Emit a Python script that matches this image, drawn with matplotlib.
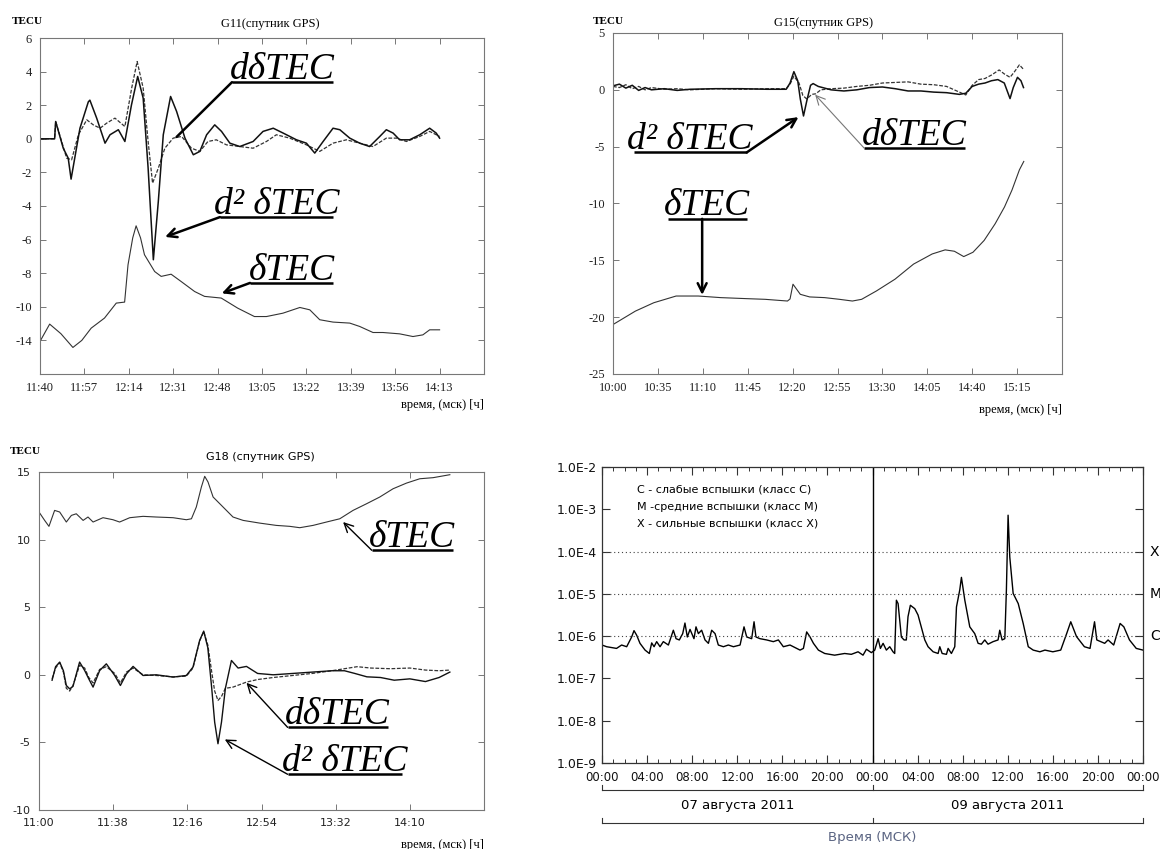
import numpy as np
import matplotlib
matplotlib.use('Agg')
import matplotlib.pyplot as plt

plt.rcParams['font.family'] = ['Liberation Serif', 'DejaVu Sans']

# ---------------- G11 (minutes after 11:40) ----------------
g11_dtec_t = [0, 3.7, 8, 12.6, 16, 19.6, 24.7, 29.2, 32.4, 33.7, 35.5, 36.8, 38.5, 40, 43.9, 46.4, 50.2, 54,
              59.2, 63, 69.4, 75.7, 82.1, 86.7, 93, 99.5, 103.3, 107.1, 112.2, 118.6, 122.4, 127.5, 131.3,
              137.7, 142.8, 146.6, 149.2, 153]
g11_dtec = [-12.06, -11.03, -11.6, -12.42, -12.0, -11.27, -10.67, -9.78, -9.72, -7.5, -5.9, -5.18, -5.9, -6.9,
            -7.9, -8.19, -8.06, -8.49, -9.09, -9.38, -9.48, -10.08, -10.58, -10.58, -10.38, -10.04, -10.18,
            -10.77, -10.91, -10.97, -11.17, -11.53, -11.53, -11.61, -11.77, -11.67, -11.37, -11.37]
g11_d1_t = [0, 5.6, 6, 10.2, 12.1, 14.7, 17.9, 20.4, 23, 25.5, 28.7, 32.5, 35.1, 37.2, 39.5, 41.4, 43.1, 45.3,
            47.8, 51, 54.2, 58, 61.2, 64.3, 67.5, 71.4, 76.5, 81.6, 86.7, 90.5, 95.6, 102, 107.1, 112.2, 117.3,
            122.4, 127.5, 132.6, 136.5, 140.3, 145.4, 149.2, 153]
g11_d1 = [0, 0, 1.03, -1.15, -1.25, 0.24, 1.13, 0.83, 0.63, 0.93, 1.23, 0.73, 3.02, 4.6, 3.02, -0.16, -2.64,
          -1.75, -0.56, 0.04, 0.14, -0.56, -0.75, -0.16, -0.06, -0.36, -0.46, -0.56, -0.16, 0.24, 0.04, -0.36,
          -0.75, -0.26, -0.06, -0.26, -0.46, 0.04, 0.04, -0.16, 0.14, 0.44, 0.14]
g11_d2_t = [0, 5.6, 6, 8.9, 10.8, 11.9, 15.3, 18.5, 19.1, 21.7, 24.9, 26.8, 30, 32.5, 35, 37.4, 39.5, 41.4,
            43.4, 45.3, 47.2, 50, 52.3, 55.5, 58.7, 61.2, 63.8, 66.9, 69.5, 72.7, 76.5, 81.6, 85.4, 89.3, 93.1,
            98.2, 102, 105.2, 108.4, 112.2, 114.8, 118.6, 122.4, 126.2, 130.1, 132.6, 135.2, 137.7, 141.5,
            145.4, 149.2, 151.7, 153]
g11_d2 = [0, 0, 1.03, -0.56, -1.15, -2.4, 0.63, 2.2, 2.3, 1.23, -0.26, 0.24, 0.54, -0.16, 2.0, 3.71, 2.42,
          -1.75, -7.2, -3.73, 0.24, 2.52, 1.63, 0.04, -0.95, -0.75, 0.24, 0.83, 0.44, -0.26, -0.46, -0.16, 0.44,
          0.63, 0.34, -0.06, -0.26, -0.85, -0.16, 0.63, 0.54, 0.04, -0.26, -0.46, 0.14, 0.54, 0.34, -0.06,
          -0.06, 0.24, 0.63, 0.34, 0.04]
g11_xlabels = ['11:40', '11:57', '12:14', '12:31', '12:48', '13:05', '13:22', '13:39', '13:56', '14:13']
g11_ylabels = ['6', '4', '2', '0', '-2', '-4', '-6', '-8', '-10', '-14']

# ---------------- G15 (minutes after 10:00) ----------------
g15_dtec_t = [0, 17.4, 31.8, 49.2, 66.5, 83.9, 104, 118.6, 136, 138, 140.3, 146, 153.3, 164.9, 176.5, 186.6,
              193.8, 205.4, 219.8, 234.3, 248.8, 258.9, 266.1, 273.4, 280.6, 289.3, 297.9, 305.2, 311, 316.8,
              320.2]
g15_dtec = [-20.65, -19.47, -18.73, -18.14, -18.14, -18.28, -18.37, -18.43, -18.58, -18.4, -17.1, -17.99,
            -18.22, -18.28, -18.43, -18.58, -18.43, -17.69, -16.66, -15.33, -14.44, -14.08, -14.2, -14.67,
            -14.29, -13.25, -11.78, -10.3, -8.82, -7.04, -6.3]
g15_d2_t = [0, 5, 10, 15, 20, 25, 30, 40, 50, 60, 80, 100, 120, 135, 138, 141, 144, 146, 148.5, 151, 154, 156,
            160, 170, 180, 190, 200, 210, 220, 230, 240, 250, 260, 270, 275, 280, 285, 290, 295, 300, 305,
            309.5, 312, 315.3, 318, 320]
g15_d2 = [0.35, 0.5, 0.15, 0.4, -0.05, 0.2, 0.0, 0.1, -0.05, 0.05, 0.1, 0.1, 0.05, 0.05, 0.6, 1.6, 0.8, -0.8,
          -2.3, -1.0, 0.4, 0.55, 0.3, 0.0, -0.1, 0.0, 0.2, 0.25, 0.1, -0.1, -0.1, -0.2, -0.25, -0.4, -0.3, 0.3,
          0.5, 0.6, 0.8, 0.9, 0.6, -0.77, 0.2, 1.1, 0.8, 0.2]
g15_d1_t = [0, 5, 10, 15, 20, 25, 30, 40, 50, 60, 80, 100, 120, 135, 138, 141, 145, 148, 151, 155, 158, 162,
            170, 180, 190, 200, 210, 220, 230, 240, 250, 260, 270, 275, 280, 285, 290, 295, 301, 305, 309.5,
            313, 316.8, 320]
g15_d1 = [0.3, 0.2, 0.45, 0.1, 0.3, 0.0, 0.2, 0.05, 0.1, 0.0, 0.1, 0.05, 0.1, 0.1, 0.5, 1.2, 0.6, -0.5, -0.8,
          -0.4, -0.35, 0.0, 0.1, 0.15, 0.3, 0.4, 0.6, 0.65, 0.7, 0.5, 0.45, 0.3, -0.2, -0.45, 0.4, 0.9, 1.0,
          1.3, 1.75, 1.4, 1.1, 1.6, 2.2, 1.8]
g15_xlabels = ['10:00', '10:35', '11:10', '11:45', '12:20', '12:55', '13:30', '14:05', '14:40', '15:15']
g15_ylabels = ['5', '0', '-5', '-10', '-15', '-20', '-25']

# ---------------- G18 (minutes after 11:00) ----------------
g18_dtec_t = [0, 2.9, 5.1, 8, 10.6, 14, 16.6, 19.1, 22.6, 25.1, 27.7, 32.8, 37.9, 41.3, 46.5, 53.3, 60.1, 68.7,
              75.5, 78.1, 80.6, 83.2, 84.9, 86.6, 89.2, 94.3, 99.4, 104.6, 113.1, 121.6, 128.5, 133.6, 140.4,
              147.3, 154.1, 160.9, 167.8, 174.6, 181.4, 188.3, 195.1, 201.9, 210.5]
g18_dtec = [12.04, 11.42, 10.98, 12.16, 12.04, 11.3, 11.79, 11.91, 11.42, 11.67, 11.3, 11.62, 11.47, 11.3,
            11.62, 11.72, 11.67, 11.62, 11.47, 11.54, 12.41, 13.89, 14.68, 14.26, 13.15, 12.41, 11.67, 11.42,
            11.22, 11.05, 10.98, 10.88, 11.05, 11.3, 11.54, 12.16, 12.65, 13.15, 13.76, 14.18, 14.5, 14.58, 14.8]
g18_d2_t = [6.7, 8.5, 10.6, 12.5, 14, 15.7, 17.4, 20.8, 23.4, 25.5, 27.7, 31.1, 34.5, 38.8, 41.7, 44.8, 48.2,
            53.3, 60.1, 68.7, 75.5, 78.9, 82.3, 84.4, 86.5, 88.5, 90, 91.7, 93.5, 95.5, 98.6, 102, 106.3, 112,
            120, 130, 140, 150, 156.5, 161.8, 168, 175, 182, 190, 198, 205, 210.5]
g18_d2 = [-0.4, 0.6, 0.94, 0.3, -0.79, -1.04, -0.86, 0.94, 0.32, -0.3, -0.91, 0.32, 0.81, -0.05, -0.79, 0.07,
          0.62, -0.05, 0.0, -0.17, -0.05, 0.57, 2.54, 3.23, 2.0, -1.0, -3.5, -5.1, -3.5, -1.0, 1.06, 0.5, 0.62,
          0.1, 0.0, 0.1, 0.2, 0.3, 0.3, 0.1, -0.15, -0.2, -0.4, -0.3, -0.5, -0.2, 0.2]
g18_d1_t = [6.7, 8.5, 10.6, 12.5, 14, 15.7, 17.4, 20.8, 23.4, 25.5, 27.7, 31.1, 34.5, 38.8, 41.7, 44.8, 48.2,
            53.3, 60.1, 68.7, 75.5, 78.9, 82.3, 84.4, 86.5, 88.5, 90, 91.7, 93.5, 95.5, 99.4, 106.3, 112, 120,
            130, 140, 150, 156.5, 163, 170, 180, 190, 198, 205, 210.5]
g18_d1 = [-0.3, 0.5, 0.9, 0.2, -1.0, -1.2, -0.8, 0.7, 0.5, -0.2, -0.6, 0.4, 0.6, 0.1, -0.6, 0.2, 0.5, 0.0,
          -0.05, -0.15, -0.1, 0.5, 2.5, 3.2, 2.2, 0.2, -1.2, -1.9, -1.6, -1.0, -0.91, -0.54, -0.35, -0.2, -0.05,
          0.1, 0.3, 0.45, 0.6, 0.5, 0.45, 0.5, 0.35, 0.3, 0.35]
g18_xlabels = ['11:00', '11:38', '12:16', '12:54', '13:32', '14:10']
g18_ylabels = ['15', '10', '5', '0', '-5', '-10']

# ---------------- GOES X-ray flux (hours from 07 Aug 00:00), log10 W/m2 ----------------
xray_h = [0, 0.41, 1.29, 1.74, 2.19, 2.63, 2.84, 3.08, 3.37, 3.82, 4.2, 4.41, 4.62, 4.85, 5.15, 5.44, 5.89,
          6.33, 6.57, 6.86, 7.16, 7.36, 7.57, 7.81, 8.16, 8.34, 8.55, 8.84, 9.14, 9.44, 9.73, 10.03, 10.32,
          10.77, 11.21, 11.66, 12.25, 12.6, 12.84, 13.28, 13.49, 13.66, 14.02, 14.61, 15.2, 15.65, 16.09,
          16.68, 17.28, 17.57, 17.87, 18.16, 18.46, 18.76, 19.2, 19.76, 20.64, 21.53, 22.12, 22.72, 23.16,
          23.46, 23.9, 24.2, 24.5, 24.7, 24.94, 25.23, 25.53, 25.82, 25.97, 26.12, 26.27, 26.56, 26.8, 27.0,
          27.15, 27.36, 27.75, 28.04, 28.49, 28.64, 28.93, 29.38, 29.82, 29.97, 30.18, 30.56, 30.71, 31.0,
          31.3, 31.45, 31.74, 31.89, 32.19, 32.63, 33.07, 33.37, 33.66, 33.96, 34.25, 34.7, 35.14, 35.29,
          35.5, 35.74, 35.88, 36.03, 36.18, 36.48, 36.93, 37.37, 37.82, 38.26, 38.85, 39.3, 40.0, 40.7,
          41.24, 41.59, 42.1, 42.8, 43.3, 43.7, 43.9, 44.6, 44.9, 45.4, 45.97, 46.3, 46.8, 47.4, 48.0]
xray_lg = [-6.21, -6.25, -6.29, -6.21, -6.25, -6.02, -5.87, -5.98, -6.17, -6.33, -6.41, -6.16, -6.25, -6.13,
           -6.25, -6.13, -6.21, -5.86, -6.06, -6.09, -5.94, -5.69, -6.02, -5.84, -6.06, -5.78, -5.94, -5.86,
           -6.09, -6.17, -5.86, -5.94, -6.21, -6.25, -6.21, -6.25, -6.21, -5.78, -6.02, -6.06, -5.66, -6.02,
           -6.06, -6.09, -6.13, -6.09, -6.25, -6.21, -6.29, -6.33, -6.29, -5.9, -6.02, -6.17, -6.33, -6.41,
           -6.45, -6.41, -6.43, -6.37, -6.45, -6.31, -6.39, -6.33, -6.06, -6.29, -6.17, -6.33, -6.25, -6.37,
           -6.41, -5.15, -5.23, -6.02, -6.09, -6.09, -5.54, -5.27, -5.35, -5.5, -5.94, -6.09, -6.25, -6.37,
           -6.41, -6.25, -6.41, -6.43, -6.29, -6.41, -6.25, -5.31, -4.91, -4.61, -5.15, -5.78, -5.94, -6.17,
           -6.19, -6.09, -6.19, -6.13, -6.09, -5.86, -6.09, -6.06, -4.91, -3.14, -4.13, -4.99, -5.23, -5.7,
           -6.25, -6.33, -6.37, -6.33, -6.37, -6.33, -5.93, -5.66, -6.01, -6.25, -6.29, -5.66, -6.09, -6.17,
           -6.09, -6.21, -5.7, -5.78, -6.09, -6.29, -6.33]
xray_xlabels = ['00:00', '04:00', '08:00', '12:00', '16:00', '20:00'] * 2 + ['00:00']
xray_ylabels = ['1.0E-9', '1.0E-8', '1.0E-7', '1.0E-6', '1.0E-5', '1.0E-4', '1.0E-3', '1.0E-2']
class_names = ['C', 'M', 'X']
class_levels = [1e-6, 1e-5, 1e-4]
class_legend = ['C - слабые вспышки (класс C)', 'M -средние вспышки (класс M)', 'X - сильные вспышки (класс X)']
day_labels = ['07 августа 2011', '09 августа 2011']

W, H = 1160, 849
fig = plt.figure(figsize=(W / 100, H / 100), dpi=100)


def rect(l, t, r, b):
    return [l / W, 1 - b / H, (r - l) / W, (b - t) / H]


def ftext(x, y, s, **kw):
    fig.text(x / W, 1 - y / H, s, **kw)


def tec_frame(ax, xmax, step, xlabels, ylim, yticks, ylabels, family, size):
    ax.set_xlim(0, xmax)
    ax.set_ylim(*ylim)
    ax.set_xticks(np.arange(0, xmax + 1, step))
    ax.set_xticklabels(xlabels + [''])
    ax.set_yticks(yticks)
    ax.set_yticklabels(ylabels)
    ax.tick_params(direction='in', top=True, right=True, length=4, width=0.7, colors='#777',
                   labelcolor='#222', pad=6)
    for lab in ax.get_xticklabels() + ax.get_yticklabels():
        lab.set_family(family)
        lab.set_fontsize(size)
    for sp in ax.spines.values():
        sp.set_color('#777')
        sp.set_linewidth(0.8)


def tag(ax, txt, x0, x1, y, dy, start, tip, lw=1.8, color='k', head='->'):
    ax.plot([x0, x1], [y, y], color='k', lw=1.8, solid_capstyle='butt', clip_on=False)
    ax.text((x0 + x1) / 2, y + dy, txt, ha='center', va='baseline', fontsize=27,
            family='Liberation Serif', style='italic')
    ax.annotate('', xy=tip, xytext=start,
                arrowprops=dict(arrowstyle=head, lw=lw, color=color, shrinkA=0, shrinkB=0, mutation_scale=16))


dash = (0, (3, 1.3))

# panel G11
ax1 = fig.add_axes(rect(40, 38, 484, 374))
ax1.plot(g11_dtec_t, g11_dtec, color='#333', lw=0.8)
ax1.plot(g11_d1_t, g11_d1, color='#333', lw=0.9, ls=dash)
ax1.plot(g11_d2_t, g11_d2, color='#111', lw=1.1)
tec_frame(ax1, 170, 17, g11_xlabels, (-14, 6), np.arange(6, -13, -2), g11_ylabels, 'Liberation Serif', 9)
tag(ax1, 'dδTEC', 73.5, 112.2, 3.37, 0.2, (73.5, 3.37), (52.3, 0.11), head='-')
tag(ax1, 'd² δTEC', 68.9, 112.2, -4.66, 0.2, (68.9, -4.66), (47.9, -5.84))
tag(ax1, 'δTEC', 80.4, 112.2, -8.58, 0.2, (80.4, -8.58), (69.6, -9.2))
ftext(12, 21, 'TECU', fontsize=8, weight='bold', va='center', family='Liberation Serif')
ftext(270, 24, 'G11(спутник GPS)', fontsize=9, ha='center', va='center', family='Liberation Serif')
ftext(484, 405, 'время, (мск) [ч]', fontsize=9, ha='right', va='center', family='Liberation Serif')

# panel G15
ax2 = fig.add_axes(rect(613, 33, 1062, 374))
ax2.plot(g15_dtec_t, g15_dtec, color='#333', lw=0.8)
ax2.plot(g15_d1_t, g15_d1, color='#333', lw=0.9, ls=dash)
ax2.plot(g15_d2_t, g15_d2, color='#111', lw=1.1)
tec_frame(ax2, 350, 35, g15_xlabels, (-25, 5), np.arange(5, -26, -5), g15_ylabels, 'Liberation Serif', 9)
tag(ax2, 'd² δTEC', 16.1, 104.2, -5.51, 0.3, (104.2, -5.51), (144.6, -2.4))
tag(ax2, 'dδTEC', 195.8, 274.4, -5.13, 0.3, (195.8, -5.13), (157.6, -0.43), lw=0.8, color='#777')
tag(ax2, 'δTEC', 42.9, 104.2, -11.35, 0.3, (69.5, -11.35), (69.5, -18.04))
ftext(593, 22, 'TECU', fontsize=8, weight='bold', va='center', family='Liberation Serif')
ftext(824, 23, 'G15(спутник GPS)', fontsize=9, ha='center', va='center', family='Liberation Serif')
ftext(1062, 410, 'время, (мск) [ч]', fontsize=9, ha='right', va='center', family='Liberation Serif')

# panel G18
ax3 = fig.add_axes(rect(39, 472, 484, 810))
ax3.plot(g18_dtec_t, g18_dtec, color='#333', lw=0.8)
ax3.plot(g18_d1_t, g18_d1, color='#333', lw=0.9, ls=dash)
ax3.plot(g18_d2_t, g18_d2, color='#111', lw=1.0)
tec_frame(ax3, 228, 38, g18_xlabels, (-10, 15), np.arange(15, -11, -5), g18_ylabels, 'DejaVu Sans', 8)
tag(ax3, 'δTEC', 170.5, 211.9, 9.21, 0.25, (170.5, 9.21), (155.8, 11.3), lw=1.0)
tag(ax3, 'dδTEC', 127.4, 178.6, -3.89, 0.25, (127.4, -3.89), (106.3, -0.59), lw=1.0)
tag(ax3, 'd² δTEC', 127.4, 185.8, -7.36, 0.25, (127.4, -7.36), (95.2, -4.78), lw=1.0)
ftext(10, 452, 'TECU', fontsize=8, weight='bold', va='center', family='Liberation Serif')
ftext(260, 457, 'G18 (спутник GPS)', fontsize=8, ha='center', va='center', family='DejaVu Sans')
ftext(484, 845, 'время, (мск) [ч]', fontsize=9, ha='right', va='center', family='Liberation Serif')

# panel X-ray flux
ax4 = fig.add_axes(rect(602, 467, 1143, 763))
ax4.plot(xray_h, 10.0 ** np.array(xray_lg), color='k', lw=1.0)
ax4.set_yscale('log')
ax4.set_ylim(1e-9, 1e-2)
ax4.set_xlim(0, 48)
ax4.set_yticks([10.0 ** k for k in range(-9, -1)])
ax4.set_yticklabels(xray_ylabels)
ax4.yaxis.set_minor_locator(matplotlib.ticker.NullLocator())
ax4.set_xticks(np.arange(0, 49, 4))
ax4.set_xticklabels(xray_xlabels)
ax4.set_xticks(np.arange(0, 49, 1), minor=True)
ax4.tick_params(which='both', direction='in', top=True, right=True, colors='#333', labelcolor='#111')
ax4.tick_params(which='major', length=6, width=0.8, pad=6)
ax4.tick_params(which='minor', length=3, width=0.7)
ax4.tick_params(axis='y', pad=4)
for lab in ax4.get_yticklabels():
    lab.set_family('DejaVu Sans')
    lab.set_fontsize(9)
for lab in ax4.get_xticklabels():
    lab.set_family('DejaVu Sans')
    lab.set_fontsize(8.5)
for sp in ax4.spines.values():
    sp.set_color('#333')
    sp.set_linewidth(0.9)
ax4.axvline(24, color='k', lw=1.0)
for name, lev in zip(class_names, class_levels):
    ax4.axhline(lev, color='#444', lw=0.8, ls=(0, (1, 2.5)))
    ax4.text(1.013, lev, name, transform=ax4.get_yaxis_transform(), ha='left', va='center',
             fontsize=10, family='DejaVu Sans')
for i, line in enumerate(class_legend):
    ftext(637, 489 + 17.5 * i, line, fontsize=8, va='center', family='DejaVu Sans')

# date brackets below the time axis
xt = ax4.get_xaxis_transform()
for yb in (-0.091, -0.203):
    ax4.plot([0, 48], [yb, yb], transform=xt, clip_on=False, color='#333', lw=0.8)
    for xv in (0, 24, 48):
        ax4.plot([xv, xv], [yb, yb + 0.018], transform=xt, clip_on=False, color='#333', lw=0.8)
ax4.text(12, -0.145, day_labels[0], transform=xt, ha='center', va='center', fontsize=9.5, family='DejaVu Sans')
ax4.text(36, -0.145, day_labels[1], transform=xt, ha='center', va='center', fontsize=9.5, family='DejaVu Sans')
ax4.text(24, -0.253, 'Время (МСК)', transform=xt, ha='center', va='center', fontsize=9.5,
         family='DejaVu Sans', color='#5a6482')

fig.savefig('out.png', dpi=100)
